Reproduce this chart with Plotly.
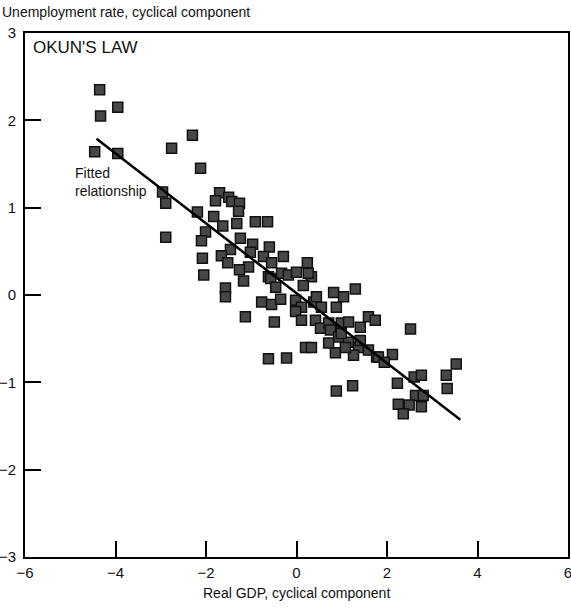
import plotly.graph_objects as go

# Cyclical components: real GDP (x) vs unemployment rate (y)
gdp_gap = [
    -4.35, -3.95, -4.33, -2.30, -2.76, -4.46, -3.95, -2.12, -2.96, -2.89,
    -1.70, -1.79, -1.50, -1.43, -1.26, -1.28, -2.19, -1.83, -1.63, -1.32,
    -0.91, -0.64, -2.01, -2.10, -2.89, -1.24, -0.97, -0.60, -1.46, -1.02,
    -1.66, -0.73, -0.29, -2.08, -1.52, -0.55, -1.06, -1.26, -2.05, -0.62,
    -0.33, -0.18, 0.00, 0.24, 0.33, -1.17, -0.57, -0.46, -1.57, -1.57,
    -0.77, -0.55, -0.35, -0.02, 0.11, 0.38, 0.55, 0.82, 1.04, 1.30,
    0.88, -1.13, -0.49, -0.02, 0.11, 0.42, 0.53, 0.71, 0.99, 0.75,
    0.93, 1.15, 0.86, 1.37, 1.59, 1.74, 1.41, 1.59, 1.77, 1.26,
    0.99, 0.71, 0.20, 0.33, -0.62, -0.22, 0.88, 1.24, 2.52, 2.12,
    3.53, 3.31, 2.60, 2.76, 2.23, 3.33, 2.63, 2.80, 2.25, 2.49,
    2.76, 2.36, 1.81, 1.08, 0.15, 0.44, 0.26, 1.15, 1.41, 1.94,
]
unemp_gap = [
    2.35, 2.15, 2.05, 1.83, 1.68, 1.64, 1.62, 1.45, 1.18, 1.05,
    1.17, 1.08, 1.12, 1.07, 1.05, 0.96, 0.95, 0.90, 0.79, 0.82,
    0.84, 0.84, 0.72, 0.62, 0.66, 0.65, 0.58, 0.55, 0.52, 0.49,
    0.45, 0.44, 0.44, 0.42, 0.37, 0.37, 0.32, 0.29, 0.23, 0.21,
    0.25, 0.23, 0.26, 0.37, 0.21, 0.16, 0.19, 0.09, 0.08, -0.02,
    -0.08, -0.11, -0.05, -0.06, -0.14, -0.08, -0.14, 0.03, -0.02, 0.07,
    -0.14, -0.25, -0.31, -0.19, -0.29, -0.29, -0.38, -0.32, -0.32, -0.40,
    -0.48, -0.54, -0.66, -0.60, -0.25, -0.29, -0.37, -0.63, -0.71, -0.69,
    -0.44, -0.55, -0.60, -0.60, -0.73, -0.72, -1.10, -1.04, -0.39, -0.68,
    -0.79, -0.92, -0.94, -0.92, -1.01, -1.07, -1.15, -1.15, -1.25, -1.26,
    -1.28, -1.36, -0.71, -0.60, 0.11, -0.02, 0.25, -0.31, -0.52, -0.77,
]

# Fitted relationship: y = intercept + slope * x
fit_intercept = 0.02
fit_slope = -0.40
fit_x = [-4.42, 3.62]
fit_y = [fit_intercept + fit_slope * v for v in fit_x]

x_ticks = [-6, -4, -2, 0, 2, 4, 6]
y_ticks = [-3, -2, -1, 0, 1, 2, 3]

font_family = "Liberation Sans, Arial, sans-serif"
ink = "#111111"

fig = go.Figure()
fig.add_trace(go.Scatter(
    x=gdp_gap, y=unemp_gap, mode="markers",
    marker=dict(symbol="square", size=10, color="#474747",
                line=dict(color="#111111", width=1.5)),
    hoverinfo="x+y",
))
fig.add_trace(go.Scatter(
    x=fit_x, y=fit_y, mode="lines",
    line=dict(color="#000000", width=2.5),
    hoverinfo="skip",
))

axis_common = dict(
    showgrid=False, zeroline=False, automargin=False,
    showline=True, linecolor="#000000", linewidth=2, mirror=True,
    ticks="inside", ticklen=16, tickwidth=2, tickcolor="#000000",
    ticklabeloverflow="allow",
    tickfont=dict(family=font_family, size=15, color=ink),
)

fig.update_layout(
    width=571, height=608,
    margin=dict(l=25, r=3, t=33, b=51),
    paper_bgcolor="#ffffff", plot_bgcolor="#ffffff",
    showlegend=False,
    xaxis=dict(range=[-6, 6], tickvals=x_ticks, ticklabelstandoff=1, **axis_common),
    yaxis=dict(range=[-3, 3], tickvals=y_ticks, ticklabelstandoff=4, **axis_common),
    annotations=[
        dict(text="Unemployment rate, cyclical component", xref="paper", yref="paper",
             x=0, y=1, xanchor="left", yanchor="bottom", xshift=-25, yshift=11,
             showarrow=False, font=dict(family=font_family, size=14, color=ink)),
        dict(text="Real GDP, cyclical component", xref="paper", yref="paper",
             x=0.5, y=0, xanchor="center", yanchor="top", yshift=-26,
             showarrow=False, font=dict(family=font_family, size=14, color=ink)),
        dict(text="OKUN'S LAW", xref="paper", yref="paper",
             x=0, y=1, xanchor="left", yanchor="top", xshift=6, yshift=-3,
             showarrow=False, font=dict(family=font_family, size=17, color=ink)),
        dict(text="Fitted<br>relationship", xref="x", yref="y",
             x=-4.95, y=1.29, xanchor="left", yanchor="middle", align="left",
             showarrow=False, font=dict(family=font_family, size=14, color=ink)),
    ],
)

fig.write_html("out.html")
